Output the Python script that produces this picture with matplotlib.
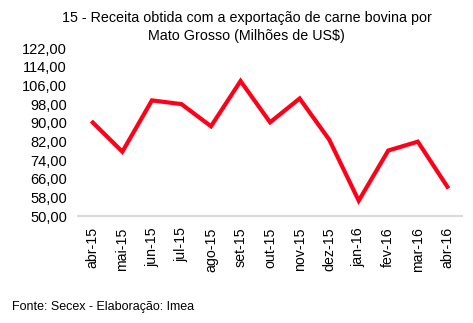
import matplotlib
matplotlib.use("Agg")
import matplotlib.pyplot as plt

months = ["abr-15", "mai-15", "jun-15", "jul-15", "ago-15", "set-15", "out-15",
          "nov-15", "dez-15", "jan-16", "fev-16", "mar-16", "abr-16"]
values = [90.1, 77.6, 99.6, 98.0, 88.5, 107.9, 90.2, 100.4, 82.8, 56.6, 78.1, 81.9, 62.6]
yticks = [50, 58, 66, 74, 82, 90, 98, 106, 114, 122]

plt.rcParams['font.family'] = ['Liberation Sans', 'DejaVu Sans']

fig = plt.figure(figsize=(4.73, 3.23), dpi=100)
ax = fig.add_axes([0.165, 0.331, 0.812, 0.52])
x = list(range(len(months)))
ax.plot(x, values, color="#ff0018", linewidth=3.0, solid_joinstyle="miter")
ax.set_xlim(-0.5, len(months) - 0.5)
ax.set_ylim(50, 122)
ax.set_yticks(yticks)
ax.set_yticklabels([f"{v:.2f}".replace(".", ",") for v in yticks], fontsize=10.5)
ax.set_xticks(x)
ax.set_xticklabels(months, rotation=90, fontsize=10.2)
for s in ["top", "right", "left"]:
    ax.spines[s].set_visible(False)
ax.spines["bottom"].set_color("#d9d9d9")
ax.spines["bottom"].set_linewidth(1.5)
ax.tick_params(axis="both", length=0)
ax.tick_params(axis="y", pad=8)
ax.tick_params(axis="x", pad=8)

fig.text(0.522, 0.965, "15 - Receita obtida com a exportação de carne bovina por\nMato Grosso (Milhões de US$)",
         ha="center", va="top", fontsize=10.3, linespacing=1.3)
fig.text(0.025, 0.05, "Fonte: Secex - Elaboração: Imea", ha="left", va="center", fontsize=9.0)

fig.savefig("out.png", dpi=100)
